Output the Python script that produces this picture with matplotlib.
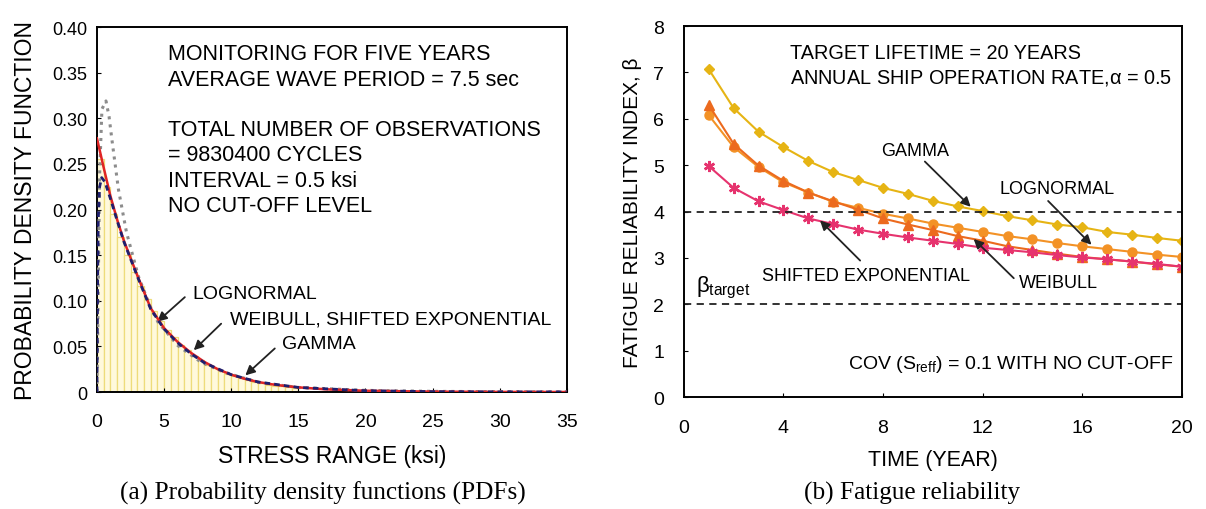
import matplotlib
matplotlib.use('Agg')
import matplotlib.pyplot as plt

plt.rcParams['font.family'] = ['Liberation Sans', 'DejaVu Sans']
plt.rcParams['mathtext.fontset'] = 'custom'
plt.rcParams['mathtext.rm'] = 'Liberation Sans'
plt.rcParams['mathtext.it'] = 'Liberation Sans'
plt.rcParams['mathtext.bf'] = 'Liberation Sans:bold'

# ---- (a) PDFs ----
hist_left = [i * 0.5 for i in range(30)]
hist_height = [0.255, 0.225, 0.195, 0.170, 0.150, 0.132, 0.116, 0.102, 0.089, 0.078,
               0.068, 0.060, 0.052, 0.046, 0.040, 0.035, 0.030, 0.026, 0.023, 0.020,
               0.017, 0.015, 0.013, 0.011, 0.0095, 0.0082, 0.0071, 0.0062, 0.0054, 0.0047]

exp_x = [0, 0.25, 0.5, 1, 1.5, 2, 2.5, 3, 3.5, 4, 5, 6, 7, 8, 9, 10, 11, 12, 13, 14,
         15, 17, 20, 25, 30, 35]
exp_y = [0.278, 0.262, 0.246, 0.215, 0.189, 0.166, 0.147, 0.128, 0.110, 0.092, 0.070,
         0.055, 0.043, 0.033, 0.025, 0.019, 0.0145, 0.011, 0.0085, 0.0066, 0.0051,
         0.003, 0.0014, 0.0004, 0.0001, 0.0]

gamma_x = [0, 0.05, 0.1, 0.2, 0.35, 0.6, 1, 1.5, 2, 2.5, 3, 4, 5, 6, 7, 8, 10, 12, 15,
           20, 25, 30, 35]
gamma_y = [0.0, 0.12, 0.19, 0.225, 0.235, 0.230, 0.212, 0.188, 0.165, 0.146, 0.127,
           0.091, 0.069, 0.054, 0.042, 0.032, 0.019, 0.011, 0.005, 0.0014, 0.0004,
           0.0001, 0.0]

logn_x = [0, 0.1, 0.2, 0.37, 0.67, 0.9, 1.11, 1.6, 2.2, 3.08, 3.94, 4.56, 6.04, 7.77,
          9.5, 12, 15, 20, 25, 35]
logn_y = [0.0, 0.12, 0.24, 0.31, 0.319, 0.302, 0.277, 0.222, 0.175, 0.127, 0.0946,
          0.0763, 0.0507, 0.0325, 0.0216, 0.0106, 0.005, 0.0018, 0.0007, 0.0001]

# ---- (b) fatigue reliability ----
years = list(range(1, 21))
beta_gamma = [7.07, 6.23, 5.72, 5.39, 5.09, 4.85, 4.68, 4.51, 4.38, 4.23,
              4.11, 4.01, 3.90, 3.81, 3.72, 3.66, 3.56, 3.50, 3.43, 3.37]
beta_logn = [6.08, 5.39, 4.96, 4.63, 4.41, 4.21, 4.08, 3.95, 3.85, 3.74,
             3.65, 3.56, 3.47, 3.40, 3.32, 3.25, 3.19, 3.13, 3.07, 3.02]
beta_weib = [6.30, 5.46, 4.99, 4.66, 4.41, 4.22, 4.04, 3.85, 3.72, 3.60,
             3.47, 3.37, 3.25, 3.17, 3.09, 3.02, 2.97, 2.92, 2.86, 2.81]
beta_sexp = [4.98, 4.51, 4.22, 4.03, 3.85, 3.73, 3.61, 3.52, 3.44, 3.37,
             3.30, 3.22, 3.17, 3.12, 3.06, 3.01, 2.97, 2.92, 2.87, 2.81]
beta_limits = [4.0, 2.0]

fig = plt.figure(figsize=(12.06, 5.10), dpi=100)
ax1 = fig.add_axes([0.0804, 0.2294, 0.3896, 0.7156])
ax2 = fig.add_axes([0.567, 0.2196, 0.413, 0.7274])

arrow = dict(arrowstyle='-|>', color='#222222', lw=1.3, mutation_scale=14)

# left panel
ax1.bar(hist_left, hist_height, width=0.5, align='edge', color='#FFF9DC',
        edgecolor='#EEDC7A', linewidth=0.9, zorder=1)
ax1.plot(logn_x, logn_y, color='#8C8C8C', linestyle=':', linewidth=2.2, zorder=3)
ax1.plot(exp_x, exp_y, color='#E02424', linewidth=1.8, zorder=4)
ax1.plot(gamma_x, gamma_y, color='#1F1F6E', linestyle='--', linewidth=2.0,
         dashes=(2, 1.5), zorder=5)
ax1.set_xlim(0, 35)
ax1.set_ylim(0, 0.40)
ax1.set_xticks([0, 5, 10, 15, 20, 25, 30, 35])
ax1.set_yticks([0, 0.05, 0.10, 0.15, 0.20, 0.25, 0.30, 0.35, 0.40])
ax1.set_yticklabels(['0', '0.05', '0.10', '0.15', '0.20', '0.25', '0.30', '0.35', '0.40'])
ax1.tick_params(axis='x', direction='in', length=3, labelsize=14, pad=15)
ax1.tick_params(axis='y', direction='in', length=3, labelsize=13, pad=7)
ax1.set_xlabel('STRESS RANGE (ksi)', fontsize=16.5, labelpad=10)
ax1.set_ylabel('PROBABILITY DENSITY FUNCTION', fontsize=16.5, labelpad=11)

info_font = 15.5
ax1.text(5.3, 0.371, 'MONITORING FOR FIVE YEARS', fontsize=info_font, va='center')
ax1.text(5.3, 0.342, 'AVERAGE WAVE PERIOD = 7.5 sec', fontsize=info_font, va='center')
ax1.text(5.3, 0.288, 'TOTAL NUMBER OF OBSERVATIONS', fontsize=info_font, va='center')
ax1.text(5.3, 0.260, '= 9830400 CYCLES', fontsize=info_font, va='center')
ax1.text(5.3, 0.232, 'INTERVAL = 0.5 ksi', fontsize=info_font, va='center')
ax1.text(5.3, 0.204, 'NO CUT-OFF LEVEL', fontsize=info_font, va='center')

ann_font = 14
ax1.annotate('', xy=(4.34, 0.075), xytext=(6.7, 0.106), arrowprops=arrow)
ax1.text(7.1, 0.108, 'LOGNORMAL', fontsize=ann_font, va='center')
ax1.annotate('', xy=(7.06, 0.0437), xytext=(9.4, 0.077), arrowprops=arrow)
ax1.text(9.9, 0.0805, 'WEIBULL, SHIFTED EXPONENTIAL', fontsize=ann_font, va='center')
ax1.annotate('', xy=(10.9, 0.0162), xytext=(13.4, 0.0498), arrowprops=arrow)
ax1.text(13.8, 0.0535, 'GAMMA', fontsize=ann_font, va='center')

# right panel
ax2.plot(years, beta_gamma, color='#E6B414', marker='D', markersize=5.5, linewidth=1.5)
ax2.plot(years, beta_logn, color='#F39226', marker='o', markersize=6.5, linewidth=1.5)
ax2.plot(years, beta_weib, color='#EC6A1E', marker='^', markersize=7, linewidth=1.5)
ax2.plot(years, beta_sexp, color='#E6336E', marker=(6, 2, 0), markersize=8,
         markeredgewidth=1.8, linewidth=1.5)
for lim in beta_limits:
    ax2.axhline(lim, color='#222222', linestyle='--', linewidth=1.3, dashes=(4, 3))

ax2.set_xlim(0, 20)
ax2.set_ylim(0, 8)
ax2.set_xticks([0, 4, 8, 12, 16, 20])
ax2.set_yticks(range(0, 9))
ax2.tick_params(axis='x', direction='in', length=3, labelsize=14, pad=16)
ax2.tick_params(axis='y', direction='in', length=3, labelsize=14, pad=14)
ax2.set_xlabel('TIME (YEAR)', fontsize=15.5, labelpad=9)
ax2.set_ylabel('FATIGUE RELIABILITY INDEX, β', fontsize=15, labelpad=8)

r_font = 14.3
ax2.text(4.26, 7.43, 'TARGET LIFETIME = 20 YEARS', fontsize=r_font, va='center')
ax2.text(4.26, 6.90, r'ANNUAL SHIP OPERATION RATE,$\alpha$ = 0.5', fontsize=r_font,
         va='center')
ax2.text(6.6, 0.73, r'COV (S$_{\mathrm{reff}}$) = 0.1 WITH NO CUT-OFF',
         fontsize=14, va='center')
ax2.text(0.5, 2.38, r'$\beta_{\mathrm{target}}$', fontsize=16, va='center')

r_ann = 13
ax2.annotate('', xy=(11.6, 4.06), xytext=(9.6, 5.12), arrowprops=arrow)
ax2.text(9.3, 5.31, 'GAMMA', fontsize=r_ann, ha='center', va='center')
ax2.annotate('', xy=(16.45, 3.24), xytext=(14.55, 4.27), arrowprops=arrow)
ax2.text(15.0, 4.49, 'LOGNORMAL', fontsize=r_ann, ha='center', va='center')
ax2.annotate('', xy=(5.39, 3.85), xytext=(7.16, 2.90), arrowprops=arrow)
ax2.text(7.3, 2.63, 'SHIFTED EXPONENTIAL', fontsize=r_ann, ha='center', va='center')
ax2.annotate('', xy=(11.56, 3.45), xytext=(13.33, 2.52), arrowprops=arrow)
ax2.text(13.45, 2.46, 'WEIBULL', fontsize=r_ann, va='center')

for ax in (ax1, ax2):
    for s in ax.spines.values():
        s.set_linewidth(1.4)

fig.text(0.268, 0.02, '(a) Probability density functions (PDFs)',
         family='Liberation Serif', fontsize=18.2, ha='center')
fig.text(0.756, 0.02, '(b) Fatigue reliability', family='Liberation Serif',
         fontsize=18.2, ha='center')

plt.savefig('out.png', dpi=100)
